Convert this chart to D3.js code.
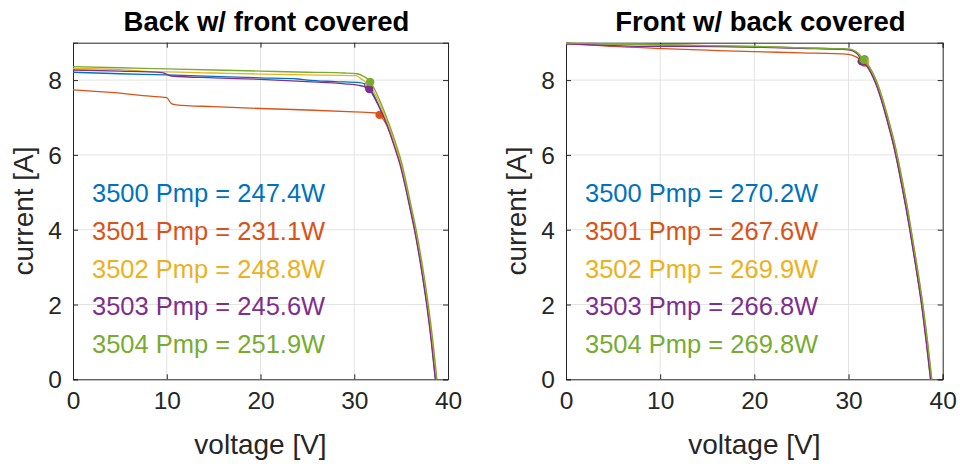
<!DOCTYPE html>
<html>
<head>
<meta charset="utf-8">
<script src="https://cdn.jsdelivr.net/npm/d3@7"></script>
<style>
  html, body { margin: 0; padding: 0; background: #fff; }
  svg { display: block; }
  text { font-family: "Liberation Sans", Arial, sans-serif; }
</style>
</head>
<body>
<svg id="chart" width="960" height="464"></svg>
<script>
// ---- data -------------------------------------------------------------
const seriesNames = ["3500", "3501", "3502", "3503", "3504"];
const seriesColors = ["#0072BD", "#D95319", "#EDB120", "#7E2F8E", "#77AC30"];

const xTicks = [0, 10, 20, 30, 40];
const yTicks = [0, 2, 4, 6, 8];

const panelTitles = ["Back w/ front covered", "Front w/ back covered"];

// Back side illuminated, front covered: [voltage V, current A]
const back3500 = [[0,8.21],[5,8.17],[10,8.14],[15,8.10],[20,8.06],[24,8.03],[25,8.00],[28,7.96],[30.6,7.93],[31.1,7.9],[31.5,7.85],[32.05,7.62],[32.6,7.33],[33.15,7.02],[33.75,6.65],[34.35,6.22],[34.9,5.79],[35.45,5.2],[35.97,4.6],[36.48,4.0],[37.18,3.0],[37.78,2.0],[38.28,1.0],[38.7,0]];
const back3501 = [[0,7.74],[4,7.67],[8.2,7.57],[10,7.53],[10.5,7.37],[11,7.34],[15,7.29],[20,7.24],[25,7.20],[30,7.15],[32.4,7.12],[32.7,7.07],[33.0,6.98],[33.35,6.85],[33.8,6.6],[34.35,6.22],[34.9,5.79],[35.45,5.2],[35.95,4.6],[36.45,4.0],[37.15,3.0],[37.75,2.0],[38.25,1.0],[38.67,0]];
const back3502 = [[0,8.31],[5,8.28],[9.3,8.22],[10,8.22],[15,8.19],[20,8.16],[25,8.14],[30.2,8.12],[30.8,8.02],[31.6,7.87],[32.1,7.68],[32.65,7.40],[33.2,7.07],[33.8,6.68],[34.4,6.24],[34.95,5.8],[35.5,5.2],[36.02,4.6],[36.53,4.0],[37.23,3.0],[37.83,2.0],[38.33,1.0],[38.76,0]];
const back3503 = [[0,8.27],[5,8.24],[9.5,8.20],[10.5,8.11],[15,8.06],[20,8.02],[25,7.96],[29,7.90],[30.5,7.86],[31.0,7.83],[31.6,7.76],[32.1,7.55],[32.65,7.28],[33.2,6.98],[33.75,6.62],[34.3,6.2],[34.85,5.77],[35.4,5.2],[35.92,4.6],[36.42,4.0],[37.12,3.0],[37.72,2.0],[38.22,1.0],[38.64,0]];
const back3504 = [[0,8.36],[5,8.33],[10,8.30],[15,8.27],[20,8.24],[25,8.21],[29,8.19],[30.3,8.17],[31.0,8.10],[31.7,7.96],[32.2,7.74],[32.75,7.44],[33.3,7.10],[33.9,6.70],[34.5,6.25],[35.05,5.8],[35.6,5.2],[36.1,4.6],[36.6,4.0],[37.3,3.0],[37.9,2.0],[38.4,1.0],[38.82,0]];

// Front side illuminated, back covered: [voltage V, current A]
const front3500 = [[0,8.98],[5,8.96],[10,8.94],[15,8.91],[20,8.89],[25,8.86],[30,8.82],[31.0,8.71],[31.6,8.55],[32.0,8.42],[32.46,8.22],[33.0,7.92],[33.5,7.55],[34.0,7.12],[34.45,6.7],[34.85,6.3],[35.2,5.9],[35.75,5.2],[36.2,4.6],[36.6,4.0],[37.25,3.0],[37.85,2.0],[38.35,1.0],[38.8,0]];
const front3501 = [[0,8.97],[2,8.95],[5,8.90],[9.5,8.85],[15,8.80],[20,8.76],[25,8.73],[30,8.69],[30.8,8.62],[31.6,8.47],[32.0,8.36],[32.4,8.19],[32.92,7.90],[33.42,7.53],[33.92,7.1],[34.37,6.68],[34.77,6.28],[35.12,5.88],[35.67,5.18],[36.12,4.58],[36.52,4.0],[37.17,3.0],[37.77,2.0],[38.27,1.0],[38.72,0]];
const front3502 = [[0,8.98],[5,8.97],[10,8.95],[15,8.92],[20,8.90],[25,8.86],[30,8.83],[31.0,8.72],[31.7,8.51],[32.05,8.40],[32.5,8.21],[33.03,7.92],[33.53,7.55],[34.03,7.12],[34.48,6.7],[34.88,6.3],[35.23,5.9],[35.78,5.2],[36.23,4.6],[36.63,4.0],[37.28,3.0],[37.88,2.0],[38.38,1.0],[38.83,0]];
const front3503 = [[0,8.97],[4,8.93],[8,8.90],[12,8.90],[20,8.88],[25,8.85],[30,8.81],[31.0,8.68],[31.4,8.50],[31.9,8.39],[32.36,8.2],[32.9,7.9],[33.4,7.53],[33.9,7.1],[34.35,6.68],[34.75,6.28],[35.1,5.88],[35.65,5.18],[36.1,4.58],[36.5,4.0],[37.15,3.0],[37.75,2.0],[38.25,1.0],[38.7,0]];
const front3504 = [[0,8.99],[5,8.97],[10,8.95],[15,8.92],[20,8.90],[25,8.86],[30,8.83],[31.0,8.72],[31.6,8.54],[32.05,8.42],[32.51,8.23],[33.05,7.93],[33.55,7.56],[34.05,7.13],[34.5,6.71],[34.9,6.31],[35.25,5.91],[35.8,5.21],[36.25,4.61],[36.65,4.0],[37.3,3.0],[37.9,2.0],[38.4,1.0],[38.85,0]];

// Maximum power points [V, I] and their powers (W)
const backMpp = [[31.5,7.85],[32.7,7.07],[31.6,7.87],[31.6,7.76],[31.7,7.95]];
const backPmp = [247.4, 231.1, 248.8, 245.6, 251.9];
const frontMpp = [[31.7,8.55],[31.7,8.47],[31.75,8.52],[31.4,8.50],[31.6,8.54]];
const frontPmp = [270.2, 267.6, 269.9, 266.8, 269.8];

// ---- drawing ------------------------------------------------------------
const svg = d3.select("#chart");
const axisColor = "#262626";
const gridColor = "#e3e3e3";

const panels = [
  { left: 73, right: 448, title: panelTitles[0],
    curves: [back3500, back3501, back3502, back3503, back3504], mpp: backMpp, pmp: backPmp },
  { left: 566, right: 942.7, title: panelTitles[1],
    curves: [front3500, front3501, front3502, front3503, front3504], mpp: frontMpp, pmp: frontPmp }
];
const plotTop = 42.7, plotBottom = 379.3;

panels.forEach((p, pi) => {
  const x = d3.scaleLinear().domain([0, 40]).range([p.left, p.right]);
  const y = d3.scaleLinear().domain([0, 9]).range([plotBottom, plotTop]);
  const g = svg.append("g");

  // grid
  g.append("g").selectAll("line").data(xTicks.slice(1, -1)).join("line")
    .attr("x1", d => x(d)).attr("x2", d => x(d)).attr("y1", plotTop).attr("y2", plotBottom)
    .attr("stroke", gridColor).attr("stroke-width", 1);
  g.append("g").selectAll("line").data(yTicks.slice(1)).join("line")
    .attr("y1", d => y(d)).attr("y2", d => y(d)).attr("x1", p.left).attr("x2", p.right)
    .attr("stroke", gridColor).attr("stroke-width", 1);

  // axes (ticks pointing inward, box on all sides)
  const tl = 5;
  const xb = g.append("g").attr("transform", `translate(0,${plotBottom})`)
    .call(d3.axisBottom(x).tickValues(xTicks).tickSize(-tl).tickPadding(12).tickFormat(d3.format("d")));
  const xt = g.append("g").attr("transform", `translate(0,${plotTop})`)
    .call(d3.axisTop(x).tickValues(xTicks).tickSize(-tl).tickFormat(""));
  const yl = g.append("g").attr("transform", `translate(${p.left},0)`)
    .call(d3.axisLeft(y).tickValues(yTicks).tickSize(-tl).tickPadding(11).tickFormat(d3.format("d")));
  const yr = g.append("g").attr("transform", `translate(${p.right},0)`)
    .call(d3.axisRight(y).tickValues(yTicks).tickSize(-tl).tickFormat(""));
  [xb, xt, yl, yr].forEach(a => {
    a.select(".domain").attr("stroke", axisColor).attr("stroke-width", 1);
    a.selectAll(".tick line").attr("stroke", axisColor);
    a.selectAll(".tick text").attr("fill", axisColor)
      .style("font-family", "'Liberation Sans', Arial, sans-serif").style("font-size", "24.5px");
  });
  xb.selectAll(".tick text").attr("dy", "0.71em");
  yl.selectAll(".tick text").attr("dy", "0.35em");

  // curves and maximum power points
  const line = d3.line().x(d => x(d[0])).y(d => y(d[1])).curve(d3.curveMonotoneX);
  const clip = `clip${pi}`;
  svg.append("clipPath").attr("id", clip).append("rect")
    .attr("x", p.left).attr("y", plotTop - 2).attr("width", p.right - p.left).attr("height", plotBottom - plotTop + 2);
  const cg = g.append("g").attr("clip-path", `url(#${clip})`);
  p.curves.forEach((c, i) => {
    cg.append("path").datum(c).attr("d", line)
      .attr("fill", "none").attr("stroke", seriesColors[i]).attr("stroke-width", 1.3)
      .attr("stroke-linejoin", "round");
    cg.append("circle").attr("cx", x(p.mpp[i][0])).attr("cy", y(p.mpp[i][1]))
      .attr("r", 4.2).attr("fill", seriesColors[i]);
  });

  // title
  g.append("text").attr("x", (p.left + p.right) / 2 + 6).attr("y", 30.5)
    .attr("text-anchor", "middle").attr("font-weight", "bold").attr("font-size", 27.5)
    .attr("fill", "#000").text(p.title);

  // axis labels
  g.append("text").attr("x", (p.left + p.right) / 2).attr("y", 454)
    .attr("text-anchor", "middle").attr("font-size", 28).attr("fill", axisColor).text("voltage [V]");
  g.append("text").attr("transform", `translate(${p.left - 40},${(plotTop + plotBottom) / 2}) rotate(-90)`)
    .attr("text-anchor", "middle").attr("font-size", 28).attr("fill", axisColor).text("current [A]");

  // Pmp labels
  seriesNames.forEach((n, i) => {
    g.append("text").attr("x", p.left + 19).attr("y", 202.3 + i * 37.6)
      .attr("font-size", 25.5).attr("fill", seriesColors[i])
      .text(`${n} Pmp = ${p.pmp[i].toFixed(1)}W`);
  });
});
</script>
</body>
</html>
